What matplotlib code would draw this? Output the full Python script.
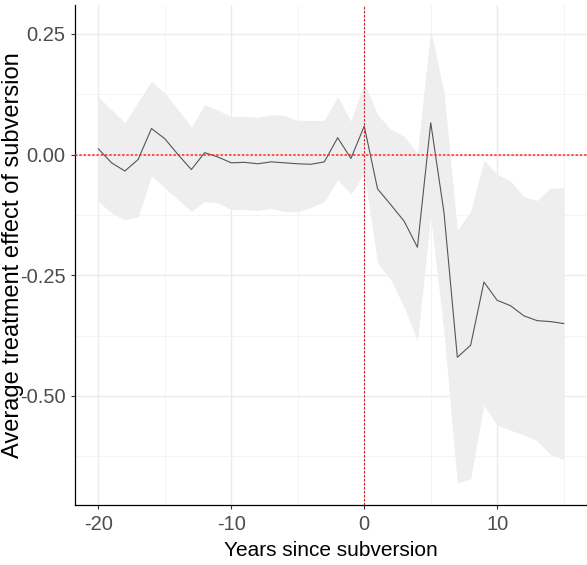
import matplotlib
matplotlib.use("Agg")
import matplotlib.pyplot as plt
import numpy as np

years = list(range(-20, 16))
estimate = [0.012, -0.017, -0.034, -0.010, 0.054, 0.033, 0.000, -0.031, 0.004, -0.005,
            -0.017, -0.016, -0.019, -0.015, -0.017, -0.019, -0.020, -0.015, 0.035, -0.008,
            0.059, -0.071, -0.104, -0.138, -0.192, 0.066, -0.121, -0.420, -0.395, -0.264,
            -0.302, -0.313, -0.334, -0.344, -0.346, -0.350]
upper = [0.120, 0.093, 0.066, 0.109, 0.152, 0.128, 0.093, 0.057, 0.104, 0.092,
         0.079, 0.079, 0.077, 0.083, 0.081, 0.071, 0.071, 0.071, 0.120, 0.069,
         0.149, 0.083, 0.052, 0.038, 0.003, 0.259, 0.128, -0.156, -0.118, -0.012,
         -0.041, -0.055, -0.087, -0.095, -0.069, -0.069]
lower = [-0.097, -0.121, -0.135, -0.129, -0.044, -0.069, -0.093, -0.118, -0.097, -0.100,
         -0.114, -0.114, -0.116, -0.111, -0.118, -0.118, -0.109, -0.097, -0.052, -0.082,
         -0.038, -0.225, -0.260, -0.316, -0.386, -0.127, -0.370, -0.681, -0.671, -0.519,
         -0.561, -0.571, -0.581, -0.593, -0.622, -0.631]
xticks = [-20, -10, 0, 10]
xtick_labels = ["-20", "-10", "0", "10"]
yticks = [0.25, 0.00, -0.25, -0.50]
ytick_labels = ["0.25", "0.00", "-0.25", "-0.50"]

plt.rcParams["axes.unicode_minus"] = False
plt.rcParams["font.family"] = ["Liberation Sans", "DejaVu Sans"]

fig = plt.figure(figsize=(5.87, 5.65), dpi=100)
ax = fig.add_axes([75/587, 60/565, 512/587, 500/565])

ax.fill_between(years, lower, upper, color="#EEEEEE", linewidth=0, zorder=2)
ax.plot(years, estimate, color="#555555", linewidth=0.8, zorder=3)
ax.axhline(0, color="#FF2020", alpha=0.75, linestyle=(0, (1.3, 0.9)), linewidth=1.4, zorder=4)
ax.axvline(0, color="#E02020", linestyle=(0, (2.2, 1.4)), linewidth=0.8, zorder=4)

ax.set_xlim(-21.75, 16.75)
ax.set_ylim(-0.726, 0.31)
ax.set_xticks(xticks)
ax.set_xticklabels(xtick_labels)
ax.set_xticks([-15, -5, 5, 15], minor=True)
ax.set_yticks(yticks)
ax.set_yticklabels(ytick_labels)
ax.set_yticks([0.125, -0.125, -0.375, -0.625], minor=True)
ax.grid(True, which="major", color="#EBEBEB", linewidth=1.0, zorder=0)
ax.grid(True, which="minor", color="#F2F2F2", linewidth=0.6, zorder=0)
ax.set_axisbelow(True)

for s in ["top", "right"]:
    ax.spines[s].set_visible(False)
for s in ["left", "bottom"]:
    ax.spines[s].set_color("black")
    ax.spines[s].set_linewidth(0.9)

ax.tick_params(which="major", length=3, width=0.8, color="#333333", labelcolor="#4D4D4D",
               labelsize=14.5, pad=4)
ax.tick_params(which="minor", length=0)

ax.set_xlabel("Years since subversion", fontsize=15, color="black", labelpad=5)
ax.set_ylabel("Average treatment effect of subversion", fontsize=17, color="black")
ax.yaxis.set_label_coords((24 - 75) / 512, 0.5)

fig.savefig("out.png", dpi=100)
